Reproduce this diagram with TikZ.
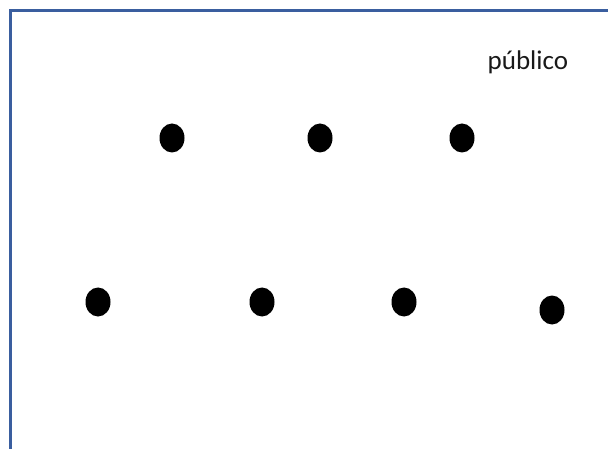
\documentclass[tikz,border=0pt]{standalone}
\usepackage{fontspec}
\setmainfont{Carlito}
\usetikzlibrary{shapes.geometric}
\definecolor{frameblue}{HTML}{3A5E9F}
\tikzset{
  frame/.style = {draw=frameblue, line width=3pt},
  dot/.style   = {ellipse, fill=black, draw=none, minimum width=25pt, minimum height=29pt, inner sep=0pt},
  label/.style = {font=\fontsize{27}{31}\selectfont, text=black!90, inner sep=0pt},
}
\begin{document}
\begin{tikzpicture}[x=1pt, y=-1pt]
\useasboundingbox (0,0) rectangle (608,449);

% ---- Frame (only top and left edges in view) ----
\draw[frame] (10.5,449) |- (608,10.5);

% ---- Label ----
\node[label, anchor=base west] (pub) at (487.5,70) {público};

% ---- Top row ----
\node[dot] (d1) at (172,138) {};
\node[dot] (d2) at (320,138) {};
\node[dot] (d3) at (462,138) {};

% ---- Bottom row ----
\node[dot] (d4) at (98,302) {};
\node[dot] (d5) at (262,302) {};
\node[dot] (d6) at (404,302) {};
\node[dot] (d7) at (552,310) {};

\end{tikzpicture}
\end{document}
